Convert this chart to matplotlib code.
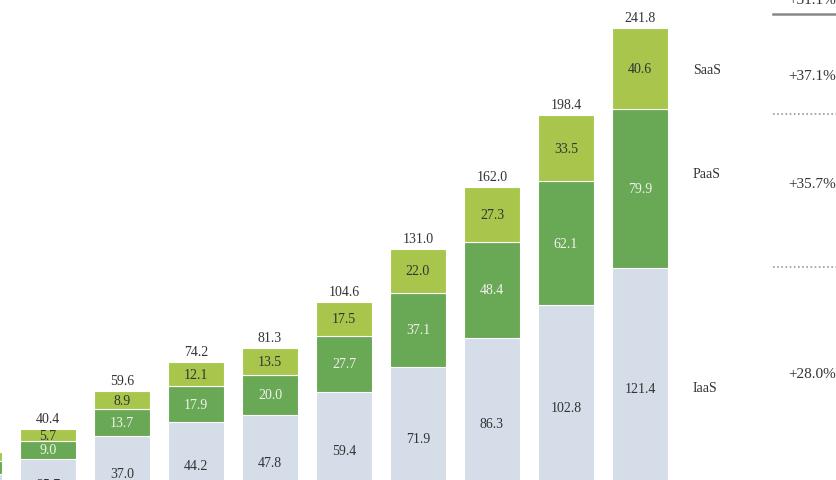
import matplotlib.pyplot as plt
from matplotlib.lines import Line2D

iaas = [18.0, 25.7, 37.0, 44.2, 47.8, 59.4, 71.9, 86.3, 102.8, 121.4]
paas = [6.5, 9.0, 13.7, 17.9, 20.0, 27.7, 37.1, 48.4, 62.1, 79.9]
saas = [4.5, 5.7, 8.9, 12.1, 13.5, 17.5, 22.0, 27.3, 33.5, 40.6]
totals = [29.0, 40.4, 59.6, 74.2, 81.3, 104.6, 131.0, 162.0, 198.4, 241.8]
x = list(range(len(iaas)))

c_iaas, c_paas, c_saas = "#d5dde8", "#69a854", "#a8c64c"
plt.rcParams['font.family'] = ['Liberation Serif', 'DejaVu Serif']

fig = plt.figure(figsize=(8.37, 4.81), dpi=100)
ax = fig.add_axes([0, 0, 1, 1])
w = 56 / 74
ax.bar(x, iaas, w, color=c_iaas, edgecolor="white", linewidth=0.8)
ax.bar(x, paas, w, bottom=iaas, color=c_paas, edgecolor="white", linewidth=0.8)
bot2 = [a + b for a, b in zip(iaas, paas)]
ax.bar(x, saas, w, bottom=bot2, color=c_saas, edgecolor="white", linewidth=0.8)

for i in x[1:]:
    ax.text(i, iaas[i] / 2, f"{iaas[i]:.1f}", ha="center", va="center", fontsize=10, color="#333333")
    ax.text(i, iaas[i] + paas[i] / 2, f"{paas[i]:.1f}", ha="center", va="center", fontsize=10, color="#f2f2f2")
    ax.text(i, bot2[i] + saas[i] / 2, f"{saas[i]:.1f}", ha="center", va="center", fontsize=10, color="#333333")
    ax.text(i, totals[i] + 2, f"{totals[i]:.1f}", ha="center", va="bottom", fontsize=10, color="#333333")

ax.set_xlim(26 / 74, 863 / 74)
ax.set_ylim(15, 256.5)
ax.axis("off")

fig.text(693 / 837, 1 - 70 / 481, "SaaS", fontsize=10, color="#333333", va="center")
fig.text(693 / 837, 1 - 174 / 481, "PaaS", fontsize=10, color="#333333", va="center")
fig.text(693 / 837, 1 - 388 / 481, "IaaS", fontsize=10, color="#333333", va="center")

fig.text(812 / 837, 1 - 77 / 481, "+37.1%", fontsize=11, color="#333333", ha="center", va="center")
fig.text(812 / 837, 1 - 185 / 481, "+35.7%", fontsize=11, color="#333333", ha="center", va="center")
fig.text(812 / 837, 1 - 375 / 481, "+28.0%", fontsize=11, color="#333333", ha="center", va="center")
fig.text(812 / 837, 1 - 1 / 481, "+31.1%", fontsize=11, color="#333333", ha="center", va="center")

fig.add_artist(Line2D([773 / 837, 1], [1 - 15 / 481] * 2, color="#888888", lw=1.8))
for yy in (115, 268):
    fig.add_artist(Line2D([773 / 837, 1], [1 - yy / 481] * 2, color="#999999", lw=1.2, ls=(0, (1, 1.5))))

fig.savefig("out.png", dpi=100)
